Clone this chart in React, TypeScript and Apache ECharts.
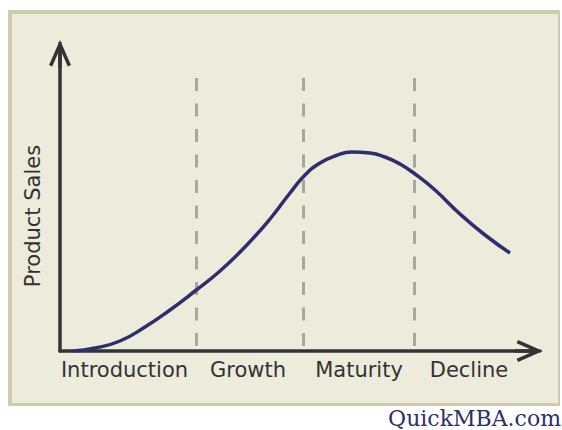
import React, { useEffect, useRef } from "react";
import * as echarts from "echarts";

// Product life cycle curve (x: time units, y: sales units)
const curveX = [13, 35, 60, 85, 110, 135, 160, 185, 210, 230, 245, 260, 275, 292, 310, 325, 340, 355, 375, 400, 425, 450];
const curveY = [0, 3, 10, 24, 41, 60, 80, 104, 132, 158, 176, 188, 195, 199, 198, 194, 187, 177, 161, 137, 116, 98];

const stageNames = ["Introduction", "Growth", "Maturity", "Decline"];
const stageCenters = [64.5, 188, 299, 409];
const stageBoundaries = [136, 243, 354];
const dashTop = 273;

const X_MAX = 469;
const Y_MAX = 297;

const ARROW =
  "path://M50 0 L100 114 L85.5 120.7 L50 39.8 L14.5 120.7 L0 114 Z M42 10 L58 10 L58 128 L42 128 Z";

export default function App() {
  const ref = useRef<HTMLDivElement>(null);

  useEffect(() => {
    if (!ref.current) return;
    const chart = echarts.init(ref.current, null, { renderer: "svg" });
    const axisColor = "#333333";
    const option: any = {
      animation: false,
      backgroundColor: "#ffffff",
      graphic: [
        {
          type: "rect",
          z: -10,
          silent: true,
          shape: { x: 8, y: 10, width: 552, height: 396 },
          style: { fill: "#cdcbab" },
        },
        {
          type: "rect",
          z: -9,
          silent: true,
          shape: { x: 12, y: 14, width: 546, height: 389 },
          style: { fill: "#ecebdc" },
        },
        {
          type: "text",
          z: 10,
          style: {
            x: 561,
            y: 418,
            text: "QuickMBA.com",
            align: "right",
            verticalAlign: "middle",
            font: "22px 'DejaVu Serif'",
            fill: "#2e2e6a",
          },
        },
      ],
      grid: { left: 60, right: 33, top: 54, bottom: 79 },
      xAxis: {
        type: "value",
        min: 0,
        max: X_MAX,
        splitLine: { show: false },
        axisTick: { show: false },
        axisLine: {
          show: true,
          symbol: ["none", ARROW],
          symbolSize: [22, 28],
          lineStyle: { color: axisColor, width: 3.5 },
        },
        axisLabel: {
          show: true,
          customValues: stageCenters,
          margin: 19,
          verticalAlign: "middle",
          color: axisColor,
          fontFamily: "DejaVu Sans",
          fontSize: 21,
          formatter: (v: number) => {
            let best = 0;
            for (let i = 1; i < stageCenters.length; i++) {
              if (Math.abs(stageCenters[i] - v) < Math.abs(stageCenters[best] - v)) best = i;
            }
            return stageNames[best];
          },
        },
      },
      yAxis: {
        type: "value",
        min: 0,
        max: Y_MAX,
        name: "Product Sales",
        nameLocation: "middle",
        nameRotate: 90,
        nameGap: 17,
        nameTextStyle: {
          color: axisColor,
          fontFamily: "DejaVu Sans",
          fontSize: 21,
          padding: [0, 27, 0, 0],
        },
        splitLine: { show: false },
        axisTick: { show: false },
        axisLabel: { show: false },
        axisLine: {
          show: true,
          symbol: ["none", ARROW],
          symbolSize: [22, 28],
          lineStyle: { color: axisColor, width: 3.5 },
        },
      },
      series: [
        {
          type: "line",
          smooth: 0.5,
          showSymbol: false,
          data: curveX.map((x, i) => [x, curveY[i]]),
          lineStyle: { color: "#2e2e6c", width: 3.5 },
          z: 3,
          markLine: {
            silent: true,
            symbol: ["none", "none"],
            label: { show: false },
            lineStyle: { color: "#a9a89f", width: 3, type: [13, 12.5] },
            data: stageBoundaries.map((b) => [
              { coord: [b, dashTop] },
              { coord: [b, 0] },
            ]),
            z: 1,
          },
        },
      ],
    };
    chart.setOption(option);
    return () => chart.dispose();
  }, []);

  return (
    <div
      ref={ref}
      style={{ position: "absolute", left: 0, top: 0, width: 562, height: 430 }}
    />
  );
}
